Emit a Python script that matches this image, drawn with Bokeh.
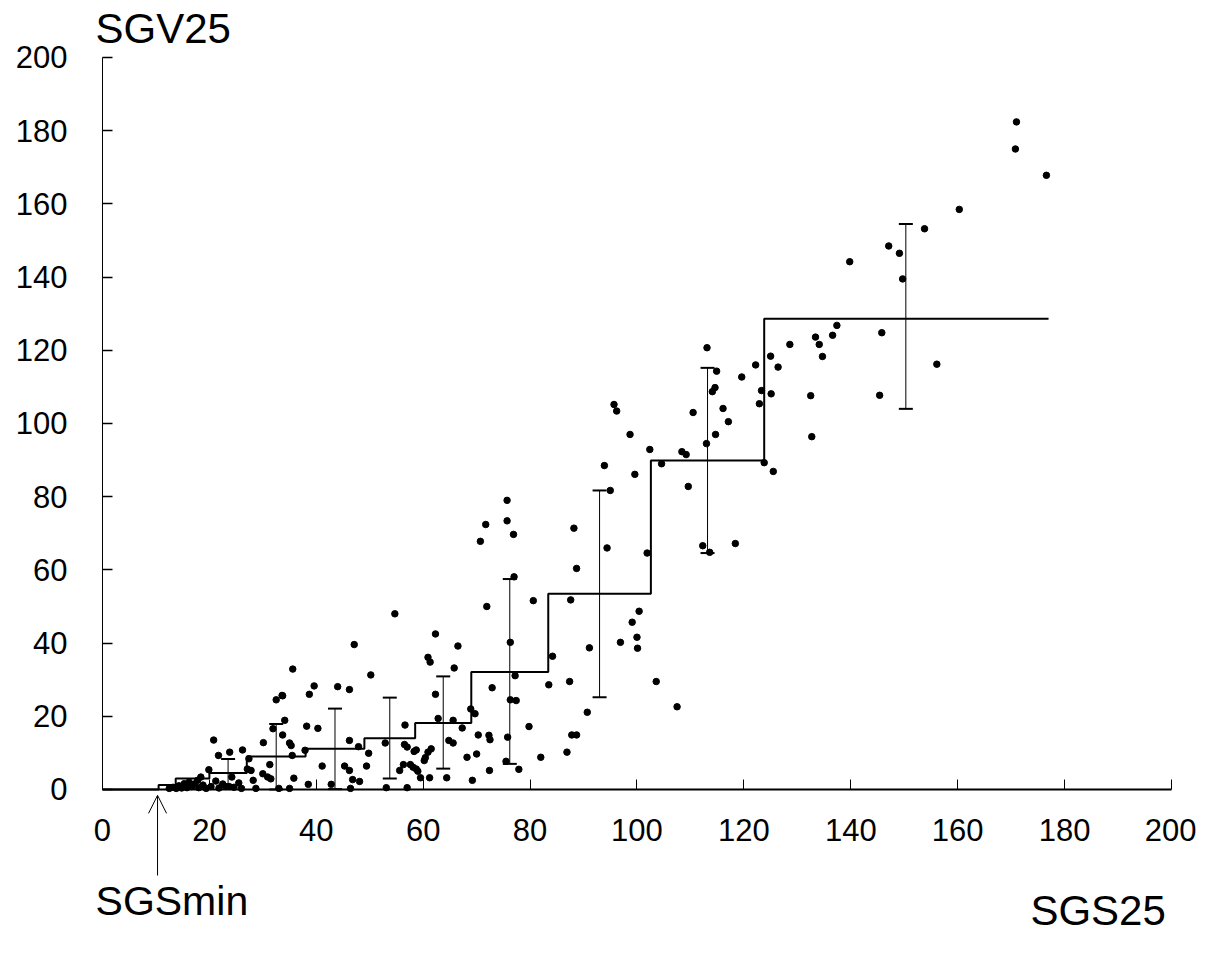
from bokeh.plotting import figure
from bokeh.models import (ColumnDataSource, Label, Arrow, OpenHead, Whisker, TeeHead,
                          FixedTicker, Range1d)
from bokeh.embed import file_html
from bokeh.resources import INLINE

# ---- data ----
pts_x = [171, 170.8, 176.6, 160.3, 153.8, 147.1, 149.1, 139.8, 149.7,
         137.4, 136.6, 133.4, 134.1, 134.7, 128.6, 145.8, 125, 126.4, 122.2, 113.1, 114.9, 119.6,
         123.3, 125.1, 122.9, 114.6, 114.1, 116.1, 117.1, 114.7, 113, 132.5, 132.7, 145.4, 156.1,
         123.8, 125.5,
         110.5, 108.4, 109.2, 104.6, 102.4, 98.7, 95.7, 96.2, 93.9, 99.6, 109.6, 95, 88.2, 94.4,
         88.7, 101.9, 112.3, 113.6, 118.4, 75.7, 75.7, 71.7, 70.7, 76.9, 77, 71.9, 80.6, 87.6,
         76.3, 66.5, 65.8, 84.2, 91.1, 96.9, 100.4, 99.1, 100, 100.1, 103.6, 107.5, 72.9, 77.2,
         76.3, 77.4, 83.5, 87.4, 68.9, 69.7, 65.6, 67.3, 70.3, 72.3, 72.5, 75.8, 79.8, 90.7,
         87.8, 88.7, 86.9, 82, 68.2, 70, 72.4, 75.5, 77.9, 69.2,
         54.7, 62.3, 47.1, 60.9, 61.3, 35.6, 50.2, 39.6, 38.7, 44, 46.2, 33.7, 62.3, 62.8, 56.6,
         34.1, 38.2, 40.3, 33.7, 46.2, 35, 35.3, 52.9, 47.9, 56.5, 57, 58.7, 58.3, 64.8, 65.6,
         61.5, 60.9, 60.4, 60.2, 49.8, 35.5, 37.9, 41.1, 45.3, 46.2, 49.4, 56.3, 55.6, 57.6,
         58.1, 58.7, 59, 46.8, 48.1, 35.8, 38.5, 42.8, 59.5, 61.2, 64.4, 35, 46.4, 53.1, 57,
         32.5, 33.6, 20.8, 23.8, 26.2, 21.7, 30.1, 31.9, 27.4, 19.9, 27.1, 27.8, 31.3, 30, 30.9,
         31.5, 24.2, 18.4, 17.8, 22.5, 23.1, 23.7, 24.6, 28.7, 28.2, 33,
         12.5, 13.2, 13.8, 14.3, 14.8, 15.3, 15.8, 16.2, 16.7, 17.2, 18.0, 18.8, 19.4, 20.3,
         21.2, 21.8, 25.5, 26]
pts_y = [182.4, 175, 167.8, 158.5, 153.2, 148.5, 146.5, 144.2, 139.5,
         126.8, 124.1, 123.6, 121.6, 118.3, 121.6, 124.8, 118.4, 115.4, 116, 120.7, 114.3, 112.7,
         109, 108.1, 105.4, 109.8, 108.7, 104.1, 100.5, 97, 94.5, 107.6, 96.4, 107.7, 116.2,
         89.3, 86.9,
         103, 92.3, 91.5, 89, 92.9, 97, 105.2, 103.4, 88.5, 86.1, 82.8, 81.7, 71.4, 66,
         60.4, 64.6, 66.6, 64.8, 67.2, 79, 73.4, 72.4, 67.8, 69.7, 58.1, 50, 51.6, 51.8,
         40.2, 39.2, 33.2, 36.4, 38.7, 40.2, 48.7, 45.7, 41.6, 38.6, 29.5, 22.6, 27.8, 31.1,
         24.5, 24.3, 28.6, 29.5, 22, 20.7, 18.9, 16.8, 14.9, 14.8, 13.6, 14.3, 17.2, 21.1,
         14.9, 14.9, 10.2, 8.8, 8.8, 9.7, 5.2, 7.7, 5.5, 2.5,
         48, 42.5, 39.6, 36.1, 34.8, 32.9, 31.3, 28.3, 26, 28.1, 27.3, 25.6, 26, 19.4, 17.6,
         18.9, 17.3, 16.7, 14.9, 13.4, 12.7, 12, 12.7, 11.7, 12.3, 11.6, 10.8, 10.4, 13.4, 12.7,
         11.1, 10.2, 8.7, 7.9, 9.9, 9.3, 10.7, 6.4, 6.4, 5.2, 6.4, 6.8, 5.2, 6.8,
         6.1, 5.6, 5, 2.7, 2.2, 3.1, 1.4, 1.4, 3.2, 3.2, 3.2, 0.3, 0.3, 0.5, 0.5,
         24.5, 25.7, 13.5, 10.2, 10.8, 9.3, 12.8, 16.6, 8.4, 5.4, 5.6, 5.2, 6.8, 4.3, 3.4,
         2.9, 3.4, 3.4, 2.5, 1.5, 0.8, 0.8, 0.6, 0.3, 2.5, 0.3,
         0.3, 0.6, 0.3, 1.0, 0.4, 1.6, 0.5, 2.0, 0.8, 1.5, 0.5, 1.2, 0.3, 0.8,
         2.3, 0.4, 1.8, 0.3]

step_edges = [0, 10.5, 13.7, 20, 27, 38, 49, 58.5, 69, 83.4, 102.6, 123.8, 177]
step_means = [0, 1.2, 3.0, 4.5, 9.0, 11.1, 14.0, 18.2, 32.1, 53.5, 89.9, 128.6]

bar_centers = [23.5, 32.5, 43.5, 53.75, 63.75, 76.2, 93, 113.2, 150.3]
bar_upper = [8.3, 17.9, 22.1, 25.1, 30.9, 57.5, 81.7, 115.2, 154.5]
bar_lower = [0.7, 0, 0.1, 3.0, 5.7, 7.0, 25.2, 64.6, 104]

tick_values = [0, 20, 40, 60, 80, 100, 120, 140, 160, 180, 200]
sgs_min = 10.3

FONT = "Liberation Sans"

# The frame fills the whole canvas; axes sit at fixed data positions (0).
p = figure(width=1196, height=940, output_backend="svg", toolbar_location=None,
           x_range=Range1d(-19.08, 204.68), y_range=Range1d(-41.26, 215.57),
           min_border=0, min_border_left=0, min_border_right=0,
           min_border_top=0, min_border_bottom=0)
p.title.visible = False
p.outline_line_color = None
p.xgrid.visible = False
p.ygrid.visible = False
p.background_fill_color = "white"
p.border_fill_color = "white"

for ax in (p.xaxis[0], p.yaxis[0]):
    ax.ticker = FixedTicker(ticks=tick_values)
    ax.fixed_location = 0
    ax.bounds = (0, 200)
    ax.major_tick_in = 10
    ax.major_tick_out = 0
    ax.minor_tick_line_color = None
    ax.axis_line_color = "black"
    ax.major_tick_line_color = "black"
    ax.major_label_text_font = FONT
    ax.major_label_text_font_size = "31px"
    ax.major_label_text_color = "black"
p.xaxis[0].major_label_standoff = 30
p.yaxis[0].major_label_standoff = 35
p.xaxis[0].axis_line_width = 2
p.yaxis[0].axis_line_width = 1
p.xaxis[0].major_tick_line_width = 1
p.yaxis[0].major_tick_line_width = 1.5

# step function of bin means
p.step(x=step_edges, y=step_means + [step_means[-1]], mode="after",
       line_color="black", line_width=2)

# error bars
wsrc = ColumnDataSource(dict(base=bar_centers, upper=bar_upper, lower=bar_lower))
p.add_layout(Whisker(source=wsrc, base="base", upper="upper", lower="lower",
                     dimension="height", line_color="black", line_width=1,
                     upper_head=TeeHead(size=14, line_width=2, line_color="black"),
                     lower_head=TeeHead(size=14, line_width=2, line_color="black")))

# scatter points
p.scatter(x=pts_x, y=pts_y, size=6.5, color="black", marker="circle")

# labels
p.add_layout(Label(x=-1.3, y=207.8, text="SGV25", text_font=FONT, text_font_size="42px",
                   text_color="black", text_baseline="alphabetic", text_align="left"))
p.add_layout(Label(x=-1.3, y=-30.5, text="SGSmin", text_font=FONT, text_font_size="41px",
                   text_color="black", text_baseline="alphabetic", text_align="left"))
p.add_layout(Label(x=173.6, y=-33.0, text="SGS25", text_font=FONT, text_font_size="42px",
                   text_color="black", text_baseline="alphabetic", text_align="left"))

p.add_layout(Arrow(end=OpenHead(size=18, line_width=1, line_color="black"),
                   x_start=sgs_min, y_start=-23.5, x_end=sgs_min, y_end=-1.6,
                   line_color="black", line_width=1))

open("out.html", "w").write(file_html(p, INLINE))
